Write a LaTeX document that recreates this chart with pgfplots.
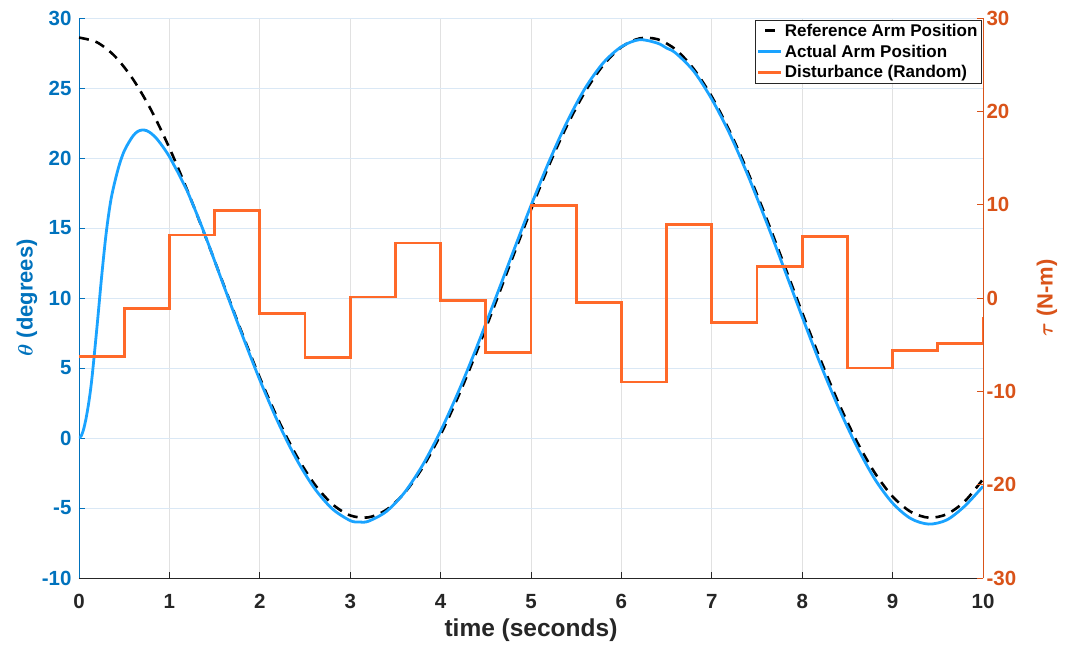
\documentclass[border=0pt]{standalone}
\usepackage{amsmath}
\usepackage{pgfplots}
\pgfplotsset{compat=1.18}
\usepackage{fontspec}
\setmainfont{Liberation Sans}
\definecolor{axblue}{RGB}{0,114,189}
\definecolor{axorange}{RGB}{217,83,25}
\definecolor{lnblue}{RGB}{26,163,255}
\definecolor{lnorange}{RGB}{255,105,41}
\definecolor{axgray}{RGB}{38,38,38}
\definecolor{gridblue}{RGB}{218,232,245}
\definecolor{gridgray}{RGB}{225,225,225}
\begin{document}
\begin{tikzpicture}
\useasboundingbox (-79pt,-68pt) rectangle (987pt,578pt);
\begin{axis}[
  scale only axis, width=904pt, height=560pt,
  xmin=0, xmax=10, ymin=-10, ymax=30,
  axis y line*=left, axis x line*=bottom,
  xtick={0,1,...,10}, ytick={-10,-5,...,30},
  grid=major,
  x grid style={gridgray, line width=0.8pt},
  y grid style={gridblue, line width=0.8pt},
  /pgf/number format/assume math mode=true,
  tick label style={font=\bfseries\fontsize{20.5}{20.5}\selectfont},
  xticklabel style={text=axgray, yshift=-13pt},
  yticklabel style={text=axblue, xshift=-4pt},
  x axis line style={axgray, line width=0.8pt, -},
  y axis line style={axblue, line width=0.8pt, -},
  xtick style={axgray, line width=0.8pt},
  ytick style={axblue, line width=0.8pt},
  major tick length=6pt,
  xlabel={time (seconds)},
  xlabel style={font=\bfseries\fontsize{24.5}{24.5}\selectfont, text=axgray,
    at={(axis description cs:0.5,-0.094)}, anchor=center},
  ylabel={$\boldsymbol{\theta}$ (degrees)},
  ylabel style={font=\bfseries\fontsize{22}{22}\selectfont, text=axblue,
    at={(axis description cs:-0.0575,0.5)}, anchor=center},
]
\addplot[black, line width=2.6pt, dash pattern=on 10pt off 7pt, smooth] coordinates {
(0,28.60) (0.2,28.26) (0.4,27.25) (0.6,25.60) (0.8,23.40) (1.0,20.72) (1.2,17.66) (1.4,14.37) (1.6,10.95) (1.8,7.55)
(2.0,4.31) (2.2,1.36) (2.4,-1.20) (2.6,-3.25) (2.8,-4.71) (3.0,-5.53) (3.2,-5.67) (3.4,-5.13) (3.6,-3.93) (3.8,-2.12)
(4.0,0.24) (4.2,3.04) (4.4,6.18) (4.6,9.53) (4.8,12.95) (5.0,16.31) (5.2,19.49) (5.4,22.34) (5.6,24.75) (5.8,26.64)
(6.0,27.92) (6.2,28.54) (6.4,28.48) (6.6,27.75) (6.8,26.36) (7.0,24.38) (7.2,21.88) (7.4,18.97) (7.6,15.76) (7.8,12.38)
(8.0,8.95) (8.2,5.63) (8.4,2.54) (8.6,-0.19) (8.8,-2.46) (9.0,-4.18) (9.2,-5.27) (9.4,-5.69) (9.6,-5.44) (9.8,-4.51) (10.0,-2.94)
};
\addplot[lnblue, line width=2.8pt, smooth] coordinates {
(0,0) (0.025,0.15) (0.05,0.6) (0.075,1.3) (0.1,2.2) (0.125,3.3) (0.15,4.7) (0.2,8.0) (0.25,11.5) (0.3,14.6)
(0.35,16.9) (0.4,18.4) (0.45,19.6)
(0.5,20.5) (0.55,21.1) (0.6,21.6) (0.65,21.9) (0.7,22.0) (0.75,21.95) (0.8,21.75) (0.85,21.45) (0.9,21.05) (0.95,20.6)
(1.0,20.1) (1.05,19.5) (1.1,18.9) (1.15,18.25) (1.2,17.6) (1.3,16.05) (1.4,14.4) (1.6,10.9) (1.8,7.45)
(2.0,4.15) (2.2,1.15) (2.4,-1.45) (2.6,-3.55) (2.8,-5.05) (3.0,-5.9) (3.1,-6.0) (3.2,-5.95) (3.4,-5.25) (3.6,-3.9)
(3.8,-1.95) (4.0,0.5) (4.2,3.35) (4.4,6.5) (4.6,9.85) (4.8,13.25) (5.0,16.6) (5.2,19.75) (5.4,22.6) (5.6,25.0)
(5.8,26.8) (6.0,27.95) (6.2,28.45) (6.4,28.2) (6.5,27.85) (6.6,27.5) (6.8,26.2) (7.0,24.2) (7.2,21.7) (7.4,18.75)
(7.6,15.5) (7.8,12.1) (8.0,8.65) (8.2,5.3) (8.4,2.2) (8.6,-0.55) (8.8,-2.9) (9.0,-4.65) (9.2,-5.75) (9.4,-6.15)
(9.6,-5.85) (9.8,-4.85) (10.0,-3.45)
};
\end{axis}
\begin{axis}[
  scale only axis, width=904pt, height=560pt,
  xmin=0, xmax=10, ymin=-30, ymax=30,
  axis y line*=right, axis x line=none,
  ytick={-30,-20,...,30},
  /pgf/number format/assume math mode=true,
  tick label style={font=\bfseries\fontsize{20.5}{20.5}\selectfont},
  yticklabel style={text=axorange},
  y axis line style={axorange, line width=0.8pt, -},
  ytick style={axorange, line width=0.8pt},
  major tick length=6pt,
  ylabel={$\boldsymbol{\tau}$ (N-m)},
  ylabel style={font=\bfseries\fontsize{22}{22}\selectfont, text=axorange,
    at={(axis description cs:1.0708,0.5)}, anchor=center},
  legend style={at={(rel axis cs:0.998,0.996)}, anchor=north east,
    font=\bfseries\fontsize{17}{19}\selectfont, draw=axgray,
    inner sep=1.5pt, row sep=3pt, cells={anchor=west}},
  legend cell align=left,
  legend image code/.code={\draw[#1, line width=2.8pt] (0pt,0pt) -- (23pt,0pt);},
]
\addlegendimage{black, dash pattern=on 10pt off 7pt, dash phase=-7pt}
\addlegendentry{Reference Arm Position}
\addlegendimage{lnblue}
\addlegendentry{Actual Arm Position}
\addlegendimage{lnorange}
\addlegendentry{Disturbance (Random)}
\addplot[lnorange, line width=2.8pt, const plot, forget plot] coordinates {
(0,-6.3) (0.5,-1.1) (1,6.75) (1.5,9.4) (2,-1.7) (2.5,-6.4) (3,0.1) (3.5,5.9) (4,-0.3) (4.5,-5.8)
(5,9.9) (5.5,-0.5) (6,-9.0) (6.5,7.9) (7,-2.6) (7.5,3.4) (8,6.6) (8.5,-7.5) (9,-5.6) (9.5,-4.9) (10,-2.0)
};
\end{axis}
\end{tikzpicture}
\end{document}
